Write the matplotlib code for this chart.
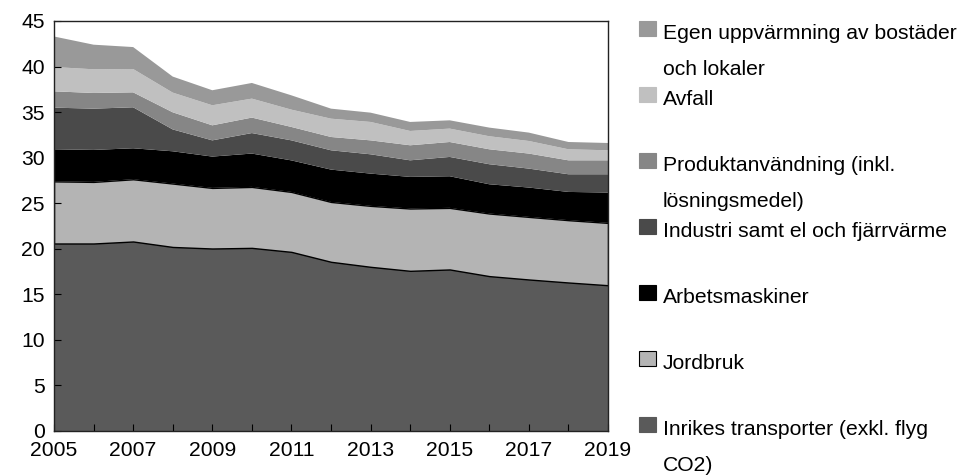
import numpy as np
import matplotlib.pyplot as plt
from matplotlib.patches import Rectangle

plt.rcParams['font.family'] = ['Liberation Sans', 'DejaVu Sans']

# ============================================================
# DATA
# ============================================================

years = list(range(2005, 2020))

transport = [20.58, 20.58, 20.80, 20.20, 20.03, 20.10, 19.66, 18.57, 18.02, 17.58, 17.73, 17.00, 16.63, 16.30, 16.00]
jordbruk = [6.82, 6.76, 6.83, 6.96, 6.65, 6.69, 6.58, 6.57, 6.69, 6.84, 6.76, 6.87, 6.87, 6.84, 6.84]
arbetsmaskiner = [3.52, 3.51, 3.40, 3.54, 3.44, 3.66, 3.46, 3.55, 3.54, 3.47, 3.47, 3.21, 3.22, 3.10, 3.33]
industri = [4.57, 4.53, 4.50, 2.40, 1.78, 2.25, 2.20, 2.12, 2.12, 1.82, 2.12, 2.20, 2.08, 1.94, 2.01]
produkt = [1.79, 1.72, 1.64, 1.88, 1.65, 1.70, 1.47, 1.46, 1.53, 1.65, 1.64, 1.64, 1.65, 1.53, 1.53]
avfall = [2.67, 2.60, 2.56, 2.16, 2.20, 2.08, 1.90, 2.01, 2.02, 1.57, 1.47, 1.43, 1.38, 1.21, 1.10]
egen = [3.35, 2.70, 2.41, 1.76, 1.65, 1.72, 1.57, 1.10, 1.02, 0.99, 0.91, 0.95, 0.92, 0.80, 0.80]

labels = [
    "Inrikes transporter (exkl. flyg\nCO2)",
    "Jordbruk",
    "Arbetsmaskiner",
    "Industri samt el och fjärrvärme",
    "Produktanvändning (inkl.\nlösningsmedel)",
    "Avfall",
    "Egen uppvärmning av bostäder\noch lokaler",
]
colors = ["#5a5a5a", "#b4b4b4", "#000000", "#4a4a4a", "#868686", "#c0c0c0", "#999999"]
edges = ["none", "#000000", "none", "none", "none", "none", "none"]

y_ticks = [0, 5, 10, 15, 20, 25, 30, 35, 40, 45]

# ============================================================
# PLOT
# ============================================================

W, H = 961, 476
FS = 15.2
fig = plt.figure(figsize=(W / 100, H / 100), dpi=100)
ax = fig.add_axes([54 / W, 1 - 431 / H, (608 - 54) / W, (431 - 21) / H])

series = [transport, jordbruk, arbetsmaskiner, industri, produkt, avfall, egen]
polys = ax.stackplot(years, *series, colors=colors, linewidth=0)
for p, ec in zip(polys, edges):
    if ec != "none":
        p.set_edgecolor(ec)
        p.set_linewidth(1.0)

ax.set_xlim(2005, 2019)
ax.set_ylim(0, 45)
ax.set_yticks(y_ticks)
ax.set_xticks(years)
ax.set_xticklabels([str(y) if (y - 2005) % 2 == 0 else "" for y in years])
ax.tick_params(direction="in", length=5, width=0.8, labelsize=FS)
ax.tick_params(axis="x", pad=7.5)
ax.tick_params(axis="y", pad=6.5)

for s in ax.spines.values():
    s.set_linewidth(1.0)
    s.set_color("#222222")

# ------------------------
# legend (drawn by hand, top entry first)
# ------------------------
for i, (lab, col, ec) in enumerate(zip(labels[::-1], colors[::-1], edges[::-1])):
    top = 21 + 66 * i
    rect = Rectangle((639 / W, 1 - (top + 15) / H), 17 / W, 15 / H,
                     transform=fig.transFigure, facecolor=col,
                     edgecolor=ec if ec != "none" else col, linewidth=0.8)
    fig.add_artist(rect)
    for j, line in enumerate(lab.split("\n")):
        fig.text(663 / W, 1 - (top + 18 + 36 * j) / H, line,
                 fontsize=FS, va="baseline", ha="left")

fig.savefig("out.png", dpi=100)
